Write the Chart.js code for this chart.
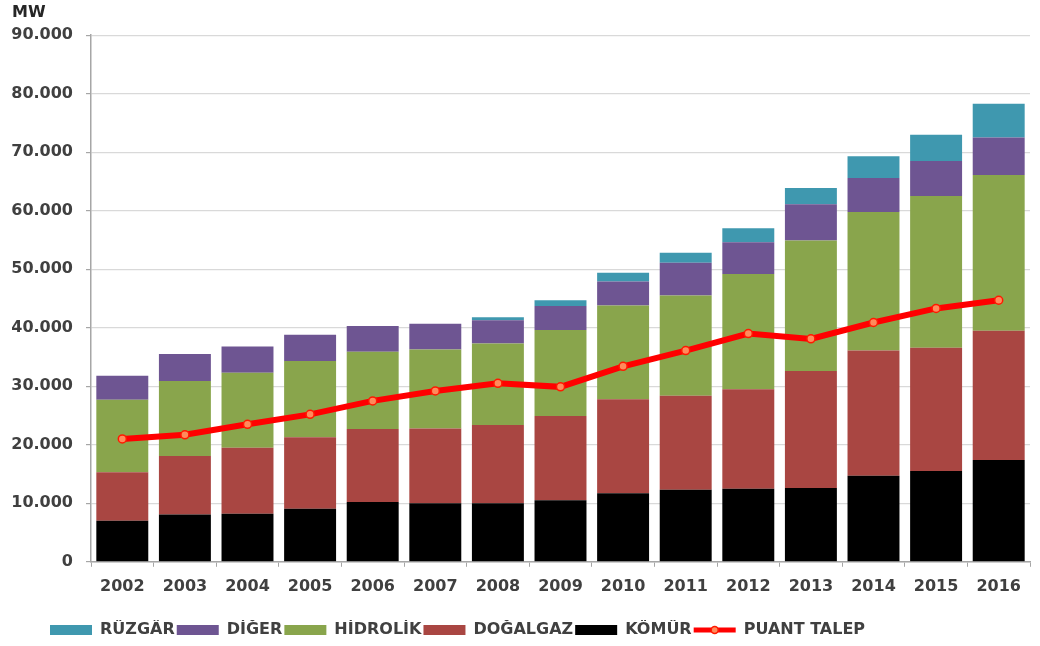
<!DOCTYPE html>
<html lang="tr">
<head>
<meta charset="utf-8">
<title>Kurulu Güç ve Puant Talep</title>
<script src="https://cdn.jsdelivr.net/npm/chart.js@4/dist/chart.umd.min.js"></script>
<style>
  html, body { margin: 0; padding: 0; background: #ffffff; }
  #wrap { position: relative; width: 1040px; height: 646px; }
</style>
</head>
<body>
<div id="wrap"><canvas id="chart"></canvas></div>
<script>
// Yıllar
const years = ['2002', '2003', '2004', '2005', '2006', '2007', '2008', '2009',
               '2010', '2011', '2012', '2013', '2014', '2015', '2016'];

// Kurulu güç, kaynak bazında (MW)
const komur    = [7000, 8100, 8200, 9050, 10200, 10000, 10000, 10500, 11700, 12300, 12500, 12600, 14700, 15500, 17400];
const dogalgaz = [8300, 10000, 11300, 12250, 12500, 12800, 13400, 14400, 16100, 16100, 17000, 20000, 21400, 21100, 22100];
const hidrolik = [12400, 12800, 12800, 13000, 13200, 13500, 13900, 14700, 16000, 17100, 19700, 22300, 23700, 25900, 26600];
const diger    = [4100, 4600, 4500, 4500, 4400, 4400, 4000, 4100, 4100, 5600, 5400, 6200, 5800, 6000, 6400];
const ruzgar   = [0, 0, 0, 0, 0, 0, 500, 1000, 1500, 1700, 2400, 2800, 3700, 4500, 5800];

// Puant talep (MW)
const puantTalep = [21000, 21700, 23500, 25200, 27500, 29200, 30500, 29900, 33400, 36100, 39000, 38100, 40900, 43300, 44700];

// Y ekseni sınırları
const yMin = 0;
const yMax = 90000;
const yStep = 10000;

const FONT = "'DejaVu Sans', Verdana, sans-serif";
const TEXT = '#404040';
const AXIS = '#a6a6a6';
const GRID = '#d9d9d9';
const LEGEND_BOX_W = 42;

// Lejant sırası (veri seti indeksine göre)
const legendRank = [4, 3, 2, 1, 0, 5];

// Lejantı sol kenardan içeri ve biraz aşağı kaydırır, çizgi simgesinin ortasına işaretçi koyar
const legendTweaks = {
  id: 'legendTweaks',
  afterLayout(chart) {
    const lg = chart.legend;
    if (!lg) return;
    lg.left += 36;
    lg.top += 2;
    lg.bottom += 2;
  },
  afterDraw(chart) {
    const lg = chart.legend;
    if (!lg || !lg.legendItems) return;
    const i = lg.legendItems.findIndex((it) => chart.data.datasets[it.datasetIndex].type === 'line');
    const hb = lg.legendHitBoxes && lg.legendHitBoxes[i];
    if (i < 0 || !hb) return;
    const ctx = chart.ctx;
    ctx.save();
    ctx.beginPath();
    ctx.arc(hb.left + LEGEND_BOX_W / 2, hb.top + hb.height / 2, 3.5, 0, Math.PI * 2);
    ctx.fillStyle = '#ff8a5c';
    ctx.strokeStyle = '#ff1a00';
    ctx.lineWidth = 1.5;
    ctx.fill();
    ctx.stroke();
    ctx.restore();
  }
};

const bar = (label, data, color) => ({
  type: 'bar', label, data,
  backgroundColor: color, borderWidth: 0,
  stack: 'kurulu', order: 1
});

new Chart(document.getElementById('chart'), {
  data: {
    labels: years,
    datasets: [
      bar('KÖMÜR', komur, '#000000'),
      bar('DOĞALGAZ', dogalgaz, '#a94642'),
      bar('HİDROLİK', hidrolik, '#89a54c'),
      bar('DİĞER', diger, '#6e5592'),
      bar('RÜZGÂR', ruzgar, '#3f98af'),
      {
        type: 'line', label: 'PUANT TALEP', data: puantTalep,
        stack: 'talep', order: 0,
        borderColor: '#ff0000', borderWidth: 6, tension: 0,
        pointRadius: 4, pointHoverRadius: 4,
        pointBackgroundColor: '#ff8a5c', pointBorderColor: '#ff1a00', pointBorderWidth: 1.5
      }
    ]
  },
  options: {
    responsive: true,
    maintainAspectRatio: false,
    animation: false,
    layout: { padding: { left: 12, right: 10, top: 0, bottom: 0 } },
    datasets: { bar: { categoryPercentage: 1.0, barPercentage: 0.83 } },
    scales: {
      x: {
        stacked: true,
        afterFit(scale) { scale.height += 12; },
        grid: { display: true, drawOnChartArea: false, drawTicks: true, tickLength: 5, tickColor: AXIS, offset: true },
        border: { display: true, color: AXIS, width: 1.5 },
        ticks: { color: TEXT, font: { family: FONT, size: 16, weight: 'bold' }, padding: 10 }
      },
      y: {
        stacked: true,
        min: yMin, max: yMax,
        afterFit(scale) { scale.width = 79; },
        grid: { color: GRID, lineWidth: 1.2, drawTicks: true, tickLength: 5, tickColor: AXIS },
        border: { display: true, color: AXIS, width: 1.5 },
        ticks: {
          stepSize: yStep,
          color: TEXT,
          padding: 13,
          font: { family: FONT, size: 16, weight: 'bold' },
          callback: (v) => v.toString().replace(/\B(?=(\d{3})+(?!\d))/g, '.')
        }
      }
    },
    plugins: {
      title: {
        display: true, text: 'MW', align: 'start',
        color: '#262626',
        font: { family: FONT, size: 16, weight: 'bold' },
        padding: { top: 3, bottom: 13 }
      },
      legend: {
        position: 'bottom', align: 'start',
        labels: {
          usePointStyle: true, pointStyleWidth: LEGEND_BOX_W, boxHeight: 10,
          padding: 2,
          color: TEXT,
          font: { family: FONT, size: 16, weight: 'bold' },
          sort: (a, b) => legendRank.indexOf(a.datasetIndex) - legendRank.indexOf(b.datasetIndex),
          generateLabels(chart) {
            const items = Chart.defaults.plugins.legend.labels.generateLabels(chart);
            items.forEach((it) => {
              const ds = chart.data.datasets[it.datasetIndex];
              if (ds.type === 'line') {
                it.pointStyle = 'line';
                it.strokeStyle = '#ff0000';
                it.lineWidth = 5;
              } else {
                it.pointStyle = 'rect';
                it.lineWidth = 0;
              }
            });
            return items;
          }
        }
      },
      tooltip: { enabled: false }
    }
  },
  plugins: [legendTweaks]
});
</script>
</body>
</html>
